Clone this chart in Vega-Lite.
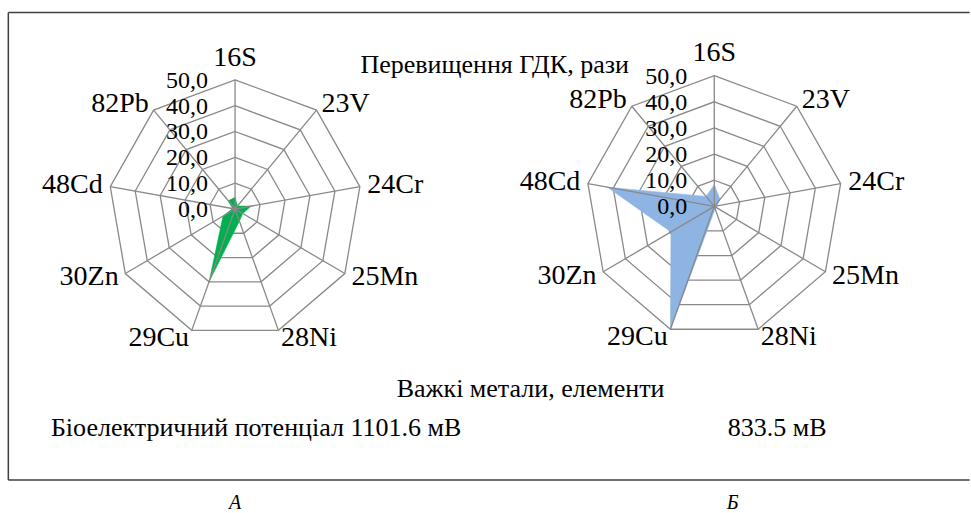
{
  "$schema": "https://vega.github.io/schema/vega-lite/v6.json",
  "width": 971,
  "height": 513,
  "autosize": {"type": "fit", "contains": "padding"},
  "padding": 0,
  "background": "white",
  "config": {"view": {"stroke": null}, "mark": {"font": "Liberation Serif"}, "text": {"font": "Liberation Serif", "color": "black"}},
  "datasets": {
    "metals": [
      {"panel": "А", "element": "16S", "value": 4.5},
      {"panel": "А", "element": "23V", "value": 1.5},
      {"panel": "А", "element": "24Cr", "value": 6.5},
      {"panel": "А", "element": "25Mn", "value": 3.5},
      {"panel": "А", "element": "28Ni", "value": 5},
      {"panel": "А", "element": "29Cu", "value": 30},
      {"panel": "А", "element": "30Zn", "value": 5.5},
      {"panel": "А", "element": "48Cd", "value": 1},
      {"panel": "А", "element": "82Pb", "value": 4.2},
      {"panel": "Б", "element": "16S", "value": 8.3},
      {"panel": "Б", "element": "23V", "value": 3.5},
      {"panel": "Б", "element": "24Cr", "value": 1},
      {"panel": "Б", "element": "25Mn", "value": 1},
      {"panel": "Б", "element": "28Ni", "value": 1},
      {"panel": "Б", "element": "29Cu", "value": 50},
      {"panel": "Б", "element": "30Zn", "value": 19.5},
      {"panel": "Б", "element": "48Cd", "value": 42.3},
      {"panel": "Б", "element": "82Pb", "value": 5}
    ],
    "grid": [
      {"element": "16S", "level": [0, 10, 20, 30, 40, 50]},
      {"element": "23V", "level": [0, 10, 20, 30, 40, 50]},
      {"element": "24Cr", "level": [0, 10, 20, 30, 40, 50]},
      {"element": "25Mn", "level": [0, 10, 20, 30, 40, 50]},
      {"element": "28Ni", "level": [0, 10, 20, 30, 40, 50]},
      {"element": "29Cu", "level": [0, 10, 20, 30, 40, 50]},
      {"element": "30Zn", "level": [0, 10, 20, 30, 40, 50]},
      {"element": "48Cd", "level": [0, 10, 20, 30, 40, 50]},
      {"element": "82Pb", "level": [0, 10, 20, 30, 40, 50]}
    ]
  },
  "layer": [
    {
      "encoding": {
        "x": {"field": "px", "type": "quantitative", "scale": {"domain": [-92.74, 282.46], "nice": false, "zero": false}, "axis": null},
        "y": {"field": "py", "type": "quantitative", "scale": {"domain": [-117.31, 80.91], "nice": false, "zero": false}, "axis": null}
      },
      "layer": [
        {
          "data": {"name": "grid"},
          "transform": [
            {"flatten": ["level"]},
            {"filter": "datum.level > 0"},
            {"calculate": "indexof(['16S','23V','24Cr','25Mn','28Ni','29Cu','30Zn','48Cd','82Pb'], datum.element)", "as": "idx"},
            {"calculate": "datum.level*sin(datum.idx*2*PI/9)", "as": "px"},
            {"calculate": "datum.level*cos(datum.idx*2*PI/9)", "as": "py"}
          ],
          "mark": {"type": "line", "interpolate": "linear-closed", "stroke": "#898989", "strokeWidth": 1.3},
          "encoding": {"detail": {"field": "level"}, "order": {"field": "idx"}}
        },
        {
          "data": {"name": "metals"},
          "transform": [
            {"filter": "datum.panel == 'А'"},
            {"calculate": "indexof(['16S','23V','24Cr','25Mn','28Ni','29Cu','30Zn','48Cd','82Pb'], datum.element)", "as": "idx"},
            {"calculate": "datum.value*sin(datum.idx*2*PI/9)", "as": "px"},
            {"calculate": "datum.value*cos(datum.idx*2*PI/9)", "as": "py"}
          ],
          "mark": {"type": "line", "interpolate": "linear-closed", "fill": "#00B050", "stroke": "#00B050", "strokeWidth": 0.5},
          "encoding": {"order": {"field": "idx"}}
        },
        {
          "data": {"name": "grid"},
          "transform": [
            {"calculate": "indexof(['16S','23V','24Cr','25Mn','28Ni','29Cu','30Zn','48Cd','82Pb'], datum.element)", "as": "idx"},
            {"calculate": "0", "as": "px"},
            {"calculate": "0", "as": "py"},
            {"calculate": "50*sin(datum.idx*2*PI/9)", "as": "px2"},
            {"calculate": "50*cos(datum.idx*2*PI/9)", "as": "py2"}
          ],
          "mark": {"type": "rule", "stroke": "#898989", "strokeWidth": 1.3},
          "encoding": {"x2": {"field": "px2"}, "y2": {"field": "py2"}}
        },
        {
          "data": {"name": "grid"},
          "transform": [
            {"filter": "datum.element == '16S'"},
            {"flatten": ["level"]},
            {"calculate": "0", "as": "px"},
            {"calculate": "datum.level", "as": "py"},
            {"calculate": "replace(format(datum.level, '.1f'), '.', ',')", "as": "label"}
          ],
          "mark": {"type": "text", "font": "Liberation Serif", "align": "right", "baseline": "middle", "dx": -27, "dy": 1, "fontSize": 24},
          "encoding": {"text": {"field": "label"}}
        },
        {
          "data": {"name": "grid"},
          "transform": [
            {"filter": "datum.element == '16S'"},
            {"calculate": "0", "as": "px"},
            {"calculate": "58.5", "as": "py"}
          ],
          "mark": {"type": "text", "font": "Liberation Serif", "align": "center", "baseline": "middle", "fontSize": 28},
          "encoding": {"text": {"field": "element"}}
        },
        {
          "data": {"name": "grid"},
          "transform": [
            {"filter": "indexof(['23V','24Cr','25Mn','28Ni'], datum.element) >= 0"},
            {"calculate": "indexof(['16S','23V','24Cr','25Mn','28Ni','29Cu','30Zn','48Cd','82Pb'], datum.element)", "as": "idx"},
            {"calculate": "53*sin(datum.idx*2*PI/9)", "as": "px"},
            {"calculate": "53*cos(datum.idx*2*PI/9)", "as": "py"}
          ],
          "mark": {"type": "text", "font": "Liberation Serif", "align": "left", "baseline": "middle", "fontSize": 28},
          "encoding": {"text": {"field": "element"}}
        },
        {
          "data": {"name": "grid"},
          "transform": [
            {"filter": "indexof(['29Cu','30Zn','48Cd','82Pb'], datum.element) >= 0"},
            {"calculate": "indexof(['16S','23V','24Cr','25Mn','28Ni','29Cu','30Zn','48Cd','82Pb'], datum.element)", "as": "idx"},
            {"calculate": "53*sin(datum.idx*2*PI/9)", "as": "px"},
            {"calculate": "53*cos(datum.idx*2*PI/9)", "as": "py"}
          ],
          "mark": {"type": "text", "font": "Liberation Serif", "align": "right", "baseline": "middle", "fontSize": 28},
          "encoding": {"text": {"field": "element"}}
        }
      ]
    },
    {
      "encoding": {
        "x": {"field": "px", "type": "quantitative", "scale": {"domain": [-278.36, 92.25], "nice": false, "zero": false}, "axis": null},
        "y": {"field": "py", "type": "quantitative", "scale": {"domain": [-116.87, 78.93], "nice": false, "zero": false}, "axis": null}
      },
      "layer": [
        {
          "data": {"name": "grid"},
          "transform": [
            {"flatten": ["level"]},
            {"filter": "datum.level > 0"},
            {"calculate": "indexof(['16S','23V','24Cr','25Mn','28Ni','29Cu','30Zn','48Cd','82Pb'], datum.element)", "as": "idx"},
            {"calculate": "datum.level*sin(datum.idx*2*PI/9)", "as": "px"},
            {"calculate": "datum.level*cos(datum.idx*2*PI/9)", "as": "py"}
          ],
          "mark": {"type": "line", "interpolate": "linear-closed", "stroke": "#898989", "strokeWidth": 1.3},
          "encoding": {"detail": {"field": "level"}, "order": {"field": "idx"}}
        },
        {
          "data": {"name": "metals"},
          "transform": [
            {"filter": "datum.panel == 'Б'"},
            {"calculate": "indexof(['16S','23V','24Cr','25Mn','28Ni','29Cu','30Zn','48Cd','82Pb'], datum.element)", "as": "idx"},
            {"calculate": "datum.value*sin(datum.idx*2*PI/9)", "as": "px"},
            {"calculate": "datum.value*cos(datum.idx*2*PI/9)", "as": "py"}
          ],
          "mark": {"type": "line", "interpolate": "linear-closed", "fill": "#8EB4E3", "stroke": "#8EB4E3", "strokeWidth": 0.5},
          "encoding": {"order": {"field": "idx"}}
        },
        {
          "data": {"name": "grid"},
          "transform": [
            {"calculate": "indexof(['16S','23V','24Cr','25Mn','28Ni','29Cu','30Zn','48Cd','82Pb'], datum.element)", "as": "idx"},
            {"calculate": "0", "as": "px"},
            {"calculate": "0", "as": "py"},
            {"calculate": "50*sin(datum.idx*2*PI/9)", "as": "px2"},
            {"calculate": "50*cos(datum.idx*2*PI/9)", "as": "py2"}
          ],
          "mark": {"type": "rule", "stroke": "#898989", "strokeWidth": 1.3},
          "encoding": {"x2": {"field": "px2"}, "y2": {"field": "py2"}}
        },
        {
          "data": {"name": "grid"},
          "transform": [
            {"filter": "datum.element == '16S'"},
            {"flatten": ["level"]},
            {"calculate": "0", "as": "px"},
            {"calculate": "datum.level", "as": "py"},
            {"calculate": "replace(format(datum.level, '.1f'), '.', ',')", "as": "label"}
          ],
          "mark": {"type": "text", "font": "Liberation Serif", "align": "right", "baseline": "middle", "dx": -27, "dy": 1, "fontSize": 24},
          "encoding": {"text": {"field": "label"}}
        },
        {
          "data": {"name": "grid"},
          "transform": [
            {"filter": "datum.element == '16S'"},
            {"calculate": "0", "as": "px"},
            {"calculate": "58.7", "as": "py"}
          ],
          "mark": {"type": "text", "font": "Liberation Serif", "align": "center", "baseline": "middle", "fontSize": 28},
          "encoding": {"text": {"field": "element"}}
        },
        {
          "data": {"name": "grid"},
          "transform": [
            {"filter": "indexof(['23V','24Cr','25Mn','28Ni'], datum.element) >= 0"},
            {"calculate": "indexof(['16S','23V','24Cr','25Mn','28Ni','29Cu','30Zn','48Cd','82Pb'], datum.element)", "as": "idx"},
            {"calculate": "53*sin(datum.idx*2*PI/9)", "as": "px"},
            {"calculate": "53*cos(datum.idx*2*PI/9)", "as": "py"}
          ],
          "mark": {"type": "text", "font": "Liberation Serif", "align": "left", "baseline": "middle", "fontSize": 28},
          "encoding": {"text": {"field": "element"}}
        },
        {
          "data": {"name": "grid"},
          "transform": [
            {"filter": "indexof(['29Cu','30Zn','48Cd','82Pb'], datum.element) >= 0"},
            {"calculate": "indexof(['16S','23V','24Cr','25Mn','28Ni','29Cu','30Zn','48Cd','82Pb'], datum.element)", "as": "idx"},
            {"calculate": "53*sin(datum.idx*2*PI/9)", "as": "px"},
            {"calculate": "53*cos(datum.idx*2*PI/9)", "as": "py"}
          ],
          "mark": {"type": "text", "font": "Liberation Serif", "align": "right", "baseline": "middle", "fontSize": 28},
          "encoding": {"text": {"field": "element"}}
        }
      ]
    },
    {
      "data": {"values": [{}]},
      "layer": [
        {
          "mark": {"type": "rule", "stroke": "#404040", "strokeWidth": 1.5},
          "encoding": {
            "x": {"datum": 8.5, "type": "quantitative", "scale": {"domain": [0, 971], "nice": false, "zero": false}, "axis": null},
            "x2": {"datum": 990},
            "y": {"datum": 12.5, "type": "quantitative", "scale": {"domain": [0, 513], "reverse": true, "nice": false, "zero": false}, "axis": null},
            "y2": {"datum": 12.5}
          }
        },
        {
          "mark": {"type": "rule", "stroke": "#404040", "strokeWidth": 1.5},
          "encoding": {
            "x": {"datum": 8.5, "type": "quantitative", "scale": {"domain": [0, 971], "nice": false, "zero": false}, "axis": null},
            "x2": {"datum": 8.5},
            "y": {"datum": 12.5, "type": "quantitative", "scale": {"domain": [0, 513], "reverse": true, "nice": false, "zero": false}, "axis": null},
            "y2": {"datum": 481}
          }
        },
        {
          "mark": {"type": "rule", "stroke": "#404040", "strokeWidth": 1.5},
          "encoding": {
            "x": {"datum": 8.5, "type": "quantitative", "scale": {"domain": [0, 971], "nice": false, "zero": false}, "axis": null},
            "x2": {"datum": 990},
            "y": {"datum": 481, "type": "quantitative", "scale": {"domain": [0, 513], "reverse": true, "nice": false, "zero": false}, "axis": null},
            "y2": {"datum": 481}
          }
        },
        {
          "mark": {"type": "text", "font": "Liberation Serif", "text": "Перевищення ГДК, рази", "align": "left", "baseline": "alphabetic", "fontSize": 26},
          "encoding": {
            "x": {"datum": 368, "type": "quantitative", "scale": {"domain": [0, 971], "nice": false, "zero": false}, "axis": null},
            "y": {"datum": 73, "type": "quantitative", "scale": {"domain": [0, 513], "reverse": true, "nice": false, "zero": false}, "axis": null}
          }
        },
        {
          "mark": {"type": "text", "font": "Liberation Serif", "text": "Важкі метали, елементи", "align": "left", "baseline": "alphabetic", "fontSize": 26},
          "encoding": {
            "x": {"datum": 405, "type": "quantitative", "scale": {"domain": [0, 971], "nice": false, "zero": false}, "axis": null},
            "y": {"datum": 398, "type": "quantitative", "scale": {"domain": [0, 513], "reverse": true, "nice": false, "zero": false}, "axis": null}
          }
        },
        {
          "mark": {"type": "text", "font": "Liberation Serif", "text": "Біоелектричний потенціал 1101.6 мВ", "align": "left", "baseline": "alphabetic", "fontSize": 26},
          "encoding": {
            "x": {"datum": 52, "type": "quantitative", "scale": {"domain": [0, 971], "nice": false, "zero": false}, "axis": null},
            "y": {"datum": 437, "type": "quantitative", "scale": {"domain": [0, 513], "reverse": true, "nice": false, "zero": false}, "axis": null}
          }
        },
        {
          "mark": {"type": "text", "font": "Liberation Serif", "text": "833.5 мВ", "align": "left", "baseline": "alphabetic", "fontSize": 26},
          "encoding": {
            "x": {"datum": 743, "type": "quantitative", "scale": {"domain": [0, 971], "nice": false, "zero": false}, "axis": null},
            "y": {"datum": 437, "type": "quantitative", "scale": {"domain": [0, 513], "reverse": true, "nice": false, "zero": false}, "axis": null}
          }
        },
        {
          "mark": {"type": "text", "font": "Liberation Serif", "text": "А", "align": "center", "baseline": "alphabetic", "fontSize": 20, "fontStyle": "italic"},
          "encoding": {
            "x": {"datum": 240, "type": "quantitative", "scale": {"domain": [0, 971], "nice": false, "zero": false}, "axis": null},
            "y": {"datum": 510, "type": "quantitative", "scale": {"domain": [0, 513], "reverse": true, "nice": false, "zero": false}, "axis": null}
          }
        },
        {
          "mark": {"type": "text", "font": "Liberation Serif", "text": "Б", "align": "center", "baseline": "alphabetic", "fontSize": 20, "fontStyle": "italic"},
          "encoding": {
            "x": {"datum": 748, "type": "quantitative", "scale": {"domain": [0, 971], "nice": false, "zero": false}, "axis": null},
            "y": {"datum": 510, "type": "quantitative", "scale": {"domain": [0, 513], "reverse": true, "nice": false, "zero": false}, "axis": null}
          }
        }
      ]
    }
  ],
  "resolve": {"scale": {"x": "independent", "y": "independent"}}
}
